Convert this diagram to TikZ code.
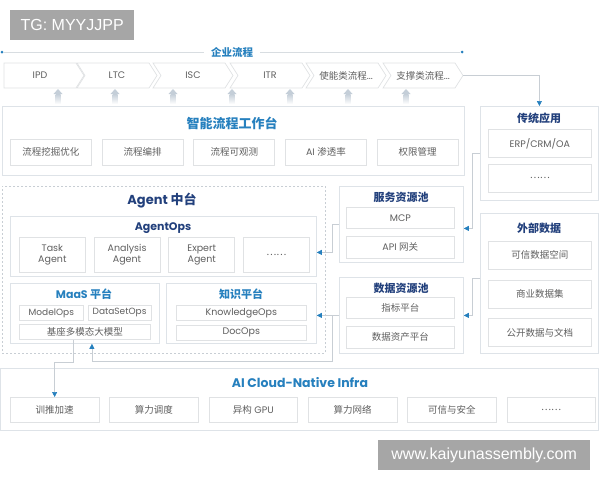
\documentclass[tikz,border=0pt]{standalone}
\usepackage{fontspec}
\setmainfont{Poppins}
\newfontfamily\zhfont{Noto Sans CJK SC}
\newfontfamily\wmfont{Liberation Sans}
\newcommand{\zh}[1]{{\zhfont #1}}
\usetikzlibrary{shapes.symbols,positioning,arrows.meta}
\definecolor{navyt}{RGB}{34,64,124}
\definecolor{bluet}{RGB}{38,128,190}
\definecolor{edgeg}{RGB}{222,227,232}
\definecolor{cellg}{RGB}{224,226,228}
\definecolor{txtg}{RGB}{95,95,95}
\definecolor{lineg}{RGB}{200,206,212}
\definecolor{upg}{RGB}{196,206,216}
\definecolor{wmg}{RGB}{166,166,166}

\begin{document}
\begin{tikzpicture}[
    x=1pt, y=-1pt,
    node distance=10pt,
    panel/.style={rectangle, draw=edgeg, line width=0.8pt, fill=white, inner sep=0pt, anchor=north west},
    dpanel/.style={rectangle, draw=lineg, dashed, dash pattern=on 2pt off 2pt, line width=0.6pt, inner sep=0pt, anchor=north west},
    cell/.style={rectangle, draw=cellg, line width=0.7pt, fill=white, inner sep=0pt, text=txtg, font=\fontsize{9.5}{11}\selectfont, align=center},
    chev/.style={signal, signal to=east, signal from=west, signal pointer angle=115, draw=cellg, line width=0.7pt, fill=white, minimum width=80pt, minimum height=25pt, inner sep=0pt, text=txtg, font=\fontsize{9.5}{11}\selectfont},
    ttl/.style={text=navyt, font=\fontsize{11}{13}\selectfont\bfseries, inner sep=1pt},
    ttlb/.style={text=bluet, font=\fontsize{11}{13}\selectfont\bfseries, inner sep=1pt},
    flow/.style={draw=lineg, line width=0.6pt, -{Triangle[length=5pt, width=5pt, color=bluet]}},
    watermark/.style={fill=wmg, text=white, font=\wmfont\fontsize{16}{18}\selectfont, inner sep=0pt, anchor=north west},
    dot/.style={circle, fill=bluet, inner sep=0pt, minimum size=3pt}
]
\useasboundingbox (0,0) rectangle (600,480);

% Watermarks
\node[watermark, minimum width=124pt, minimum height=30pt] (tg) at (10,10) {TG: MYYJJPP};
\node[watermark, minimum width=212pt, minimum height=30pt] (url) at (378,440) {www.kaiyunassembly.com};

% Enterprise processes
\node[dot] (dl) at (2,52) {};
\node[dot] (dr) at (462,52) {};
\node[ttlb, font=\zhfont\fontsize{10.5}{12}\selectfont\bfseries, inner xsep=7pt] (ep) at (232,52) {企业流程};
\draw[lineg!70, line width=0.6pt] (dl) -- (ep) -- (dr);

\node[chev, signal from=nowhere] (ipd) at (40,75.5) {IPD};
\node[chev] (ltc) at (117,75.5) {LTC};
\node[chev] (isc) at (193,75.5) {ISC};
\node[chev] (itr) at (270,75.5) {ITR};
\node[chev] (enb) at (346,75.5) {\zh{使能类流程}...};
\node[chev] (sup) at (423,75.5) {\zh{支撑类流程}...};

% up arrows
\foreach \x in {58,115,173,232,290,348,406} {
  \fill[upg] (\x-4.5,94) -- (\x,89) -- (\x+4.5,94) -- cycle;
  \shade[top color=upg, bottom color=white] (\x-2.5,94) rectangle (\x+2.5,104);
}

% Workbench
\node[panel, minimum width=462pt, minimum height=69pt] (wb) at (2,106) {};
\node[ttlb, font=\zhfont\fontsize{13}{15}\selectfont\bfseries] (wbT) at (232,123) {智能流程工作台};
\node[cell, minimum width=81pt, minimum height=26pt, anchor=north west] (mine) at (10,139) {\zh{流程挖掘优化}};
\node[cell, minimum width=81pt, minimum height=26pt, right=of mine] (orch) {\zh{流程编排}};
\node[cell, minimum width=81pt, minimum height=26pt, right=of orch] (obs) {\zh{流程可观测}};
\node[cell, minimum width=81pt, minimum height=26pt, right=of obs] (aipen) {AI \zh{渗透率}};
\node[cell, minimum width=81pt, minimum height=26pt, right=of aipen] (perm) {\zh{权限管理}};

% Traditional apps
\node[panel, minimum width=118pt, minimum height=94pt] (trad) at (480,106) {};
\node[ttl] (tradT) at (539,118) {\zh{传统应用}};
\node[cell, minimum width=103pt, minimum height=28pt, anchor=north west] (erp) at (488,129) {ERP/CRM/OA};
\node[cell, minimum width=103pt, minimum height=28pt, below=6pt of erp] (tmore) {\zh{……}};

% External data
\node[panel, minimum width=118pt, minimum height=140pt] (ext) at (480,213) {};
\node[ttl] (extT) at (539,228) {\zh{外部数据}};
\node[cell, minimum width=103pt, minimum height=28pt, anchor=north west] (trust) at (488,241) {\zh{可信数据空间}};
\node[cell, minimum width=103pt, minimum height=28pt, below=of trust] (biz) {\zh{商业数据集}};
\node[cell, minimum width=103pt, minimum height=28pt, below=of biz] (open) {\zh{公开数据与文档}};

% Agent platform
\node[dpanel, minimum width=323pt, minimum height=167pt] (agent) at (2,186) {};
\node[ttl, font=\fontsize{13}{15}\selectfont\bfseries] (agentT) at (162,201) {Agent \zh{中台}};
\node[panel, minimum width=306pt, minimum height=60pt] (aops) at (10,216) {};
\node[ttl] (aopsT) at (163,228) {AgentOps};
\node[cell, minimum width=66pt, minimum height=35pt, anchor=north west] (task) at (19,237) {Task\\Agent};
\node[cell, minimum width=66pt, minimum height=35pt, right=8pt of task] (ana) {Analysis\\Agent};
\node[cell, minimum width=66pt, minimum height=35pt, right=8pt of ana] (expt) {Expert\\Agent};
\node[cell, minimum width=66pt, minimum height=35pt, right=8pt of expt] (amore) {\zh{……}};

\node[panel, minimum width=149pt, minimum height=60pt] (maas) at (10,283) {};
\node[ttlb] (maasT) at (84,294) {MaaS \zh{平台}};
\node[cell, font=\fontsize{9}{10}\selectfont, minimum width=64pt, minimum height=15pt, anchor=north west] (mops) at (19,305) {ModelOps};
\node[cell, font=\fontsize{9}{10}\selectfont, minimum width=63pt, minimum height=15pt, right=4pt of mops] (dops) {DataSetOps};
\node[cell, minimum width=131pt, minimum height=15pt, anchor=north west] (base) at (19,324) {\zh{基座多模态大模型}};

\node[panel, minimum width=150pt, minimum height=60pt] (know) at (166,283) {};
\node[ttlb] (knowT) at (241,294) {\zh{知识平台}};
\node[cell, minimum width=130pt, minimum height=15pt, anchor=north west] (kops) at (176,305) {KnowledgeOps};
\node[cell, minimum width=130pt, minimum height=15pt, below=4pt of kops] (docs) {DocOps};

% Resource pools
\node[panel, minimum width=124pt, minimum height=76pt] (svc) at (339,186) {};
\node[ttl] (svcT) at (401,197) {\zh{服务资源池}};
\node[cell, minimum width=108pt, minimum height=21pt, anchor=north west] (mcp) at (346,207) {MCP};
\node[cell, minimum width=108pt, minimum height=22pt, below=7pt of mcp] (api) {API \zh{网关}};

\node[panel, minimum width=124pt, minimum height=76pt] (data) at (339,277) {};
\node[ttl] (dataT) at (401,288) {\zh{数据资源池}};
\node[cell, minimum width=108pt, minimum height=21pt, anchor=north west] (ind) at (346,297) {\zh{指标平台}};
\node[cell, minimum width=108pt, minimum height=22pt, below=7pt of ind] (asset) {\zh{数据资产平台}};

% Infra
\node[panel, minimum width=598pt, minimum height=62pt] (infra) at (0,368) {};
\node[ttlb, font=\fontsize{12.5}{14}\selectfont\bfseries] (infraT) at (300,383) {AI Cloud-Native Infra};
\node[cell, minimum width=88.6pt, minimum height=25pt, anchor=north west] (train) at (10,397) {\zh{训推加速}};
\node[cell, minimum width=88.6pt, minimum height=25pt, right=of train] (sched) {\zh{算力调度}};
\node[cell, minimum width=88.6pt, minimum height=25pt, right=of sched] (gpu) {\zh{异构} GPU};
\node[cell, minimum width=88.6pt, minimum height=25pt, right=of gpu] (cnet) {\zh{算力网络}};
\node[cell, minimum width=88.6pt, minimum height=25pt, right=of cnet] (sec) {\zh{可信与安全}};
\node[cell, minimum width=88.6pt, minimum height=25pt, right=of sec] (imore) {\zh{……}};

% Connectors
\draw[flow] (sup.east) -| (trad.north);
\draw[flow] (trad.west) -- ++(-8,0) |- ([yshift=-4pt]svc.east);
\draw[flow] ([yshift=5pt]ext.west) -- ++(-8,0) |- (data.east);
\draw[flow] (svc.west) -- ++(-7,0) |- ([yshift=-6pt]aops.east);
\draw[flow] (data.west) -- (data.west -| know.east);
\draw[flow] (data.west) -- ++(-7,0) -- ++(0,46) -| ([xshift=7pt]maas.south);
\draw[flow] ([xshift=-12pt]base.south) -- ++(0,23) -| (train.north);

\end{tikzpicture}
\end{document}
